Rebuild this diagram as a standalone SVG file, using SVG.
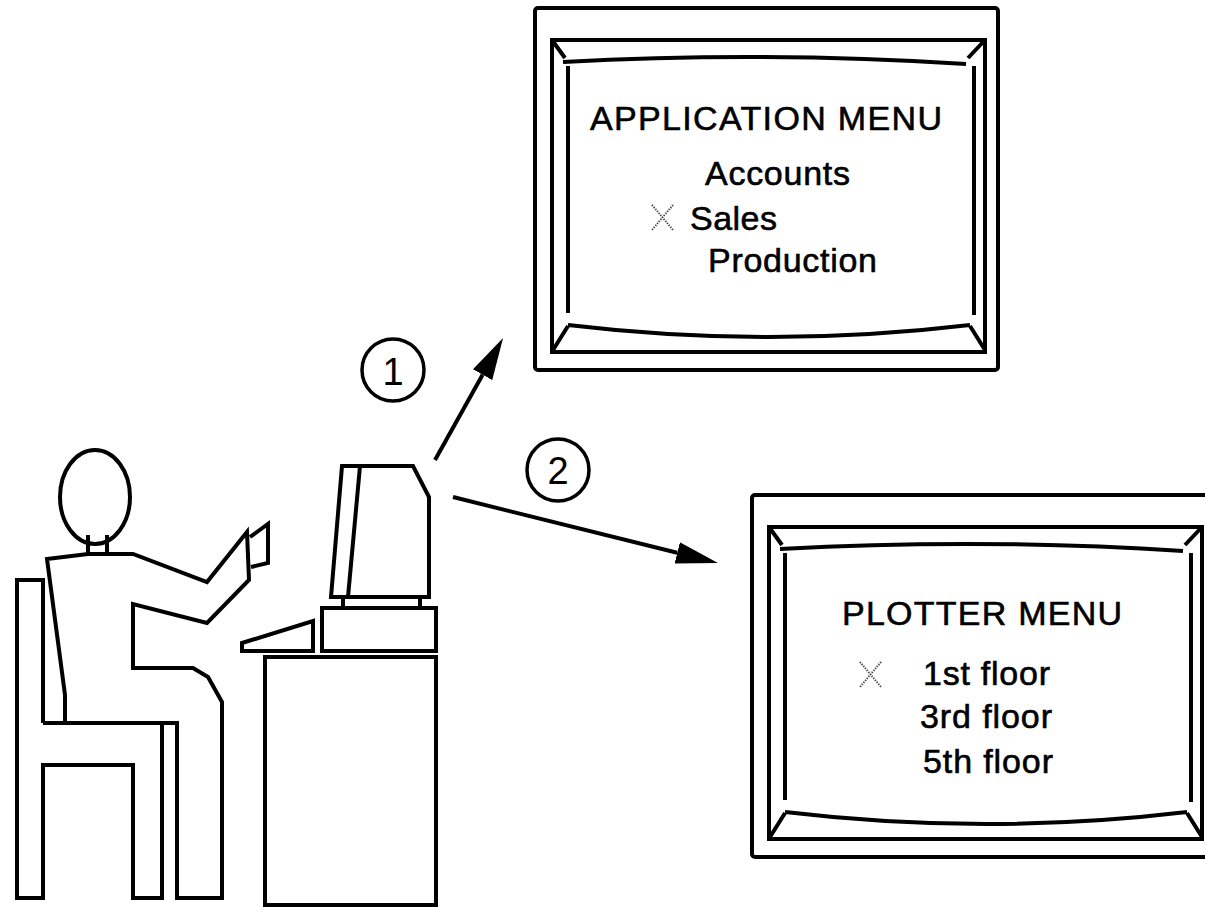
<svg xmlns="http://www.w3.org/2000/svg" xmlns:xlink="http://www.w3.org/1999/xlink" width="1205" height="907" viewBox="0 0 1205 907">
  <style>
    .ln { fill: none; stroke: #000; stroke-width: 4; stroke-linejoin: miter; stroke-linecap: butt; }
    .menu { font-family: "Liberation Sans", Arial, Helvetica, sans-serif; font-size: 34px; fill: #000; stroke: #000; stroke-width: 0.6; }
    .num { font-family: "Liberation Sans", Arial, Helvetica, sans-serif; font-size: 38px; fill: #000; text-anchor: middle; }
    .xmark { fill: none; stroke: #444; stroke-width: 2; stroke-dasharray: 1.3 1.3; }
    .conn { fill: none; stroke: #000; stroke-width: 4; }
  </style>
  <defs>
    <marker id="arrowhead" markerUnits="userSpaceOnUse" markerWidth="44" markerHeight="24" viewBox="0 -12 44 24" refX="0" refY="0" orient="auto">
      <path d="M0,-11 L42,0 L0,11 z" fill="#000"/>
    </marker>
    <!-- Monitor frame, drawn at the position of the upper screen -->
    <g id="screenFrame">
      <rect class="ln" x="535" y="8" width="463" height="362" rx="3"/>
      <rect class="ln" x="552" y="40" width="433" height="312"/>
      <path class="ln" d="M552,40 L565,58 M985,40 L968,58 M553,350 L568,326 M985,350 L970,326"/>
      <path class="ln" d="M563,62 Q765,51 966,64"/>
      <path class="ln" d="M568,325 Q769,349 970,325"/>
      <path class="ln" d="M568,66 L568,313 M974,66 L974,315"/>
    </g>
  </defs>

  <rect width="1205" height="907" fill="#fff"/>

  <!-- Seated user and chair -->
  <g id="user">
    <ellipse class="ln" cx="95" cy="497" rx="35" ry="47"/>
    <path class="ln" d="M88,535 L88,554 M107,535 L107,554"/>
    <!-- chair -->
    <path class="ln" d="M43,723 L43,580 L17,580 L17,898 L43,898 L43,765 L133,765 L133,898 L162,898 L162,723"/>
    <!-- body outline -->
    <path class="ln" d="M65,723 L65,695 L47,559 L88,554 L133,554 L207,582 L247,532 L249,580 L207,623 L133,604 L133,668 L193,668 L208,677 L222,702 L222,898 L177,898 L177,723 L43,723"/>
    <!-- hand -->
    <path class="ln" d="M250,537 L268,524 L268,563 L251,567"/>
  </g>

  <!-- Desk with terminal -->
  <g id="terminal">
    <path class="ln" d="M342,466 L413,466 L429,497 L429,597 L331,597 Z"/>
    <path class="ln" d="M360,466 L348,597"/>
    <path class="ln" d="M343,597 L343,608 M420,597 L420,608"/>
    <rect class="ln" x="322" y="608" width="114" height="43"/>
    <path class="ln" d="M242,643 L313,621 L313,651 L242,651 Z"/>
    <rect class="ln" x="265" y="657" width="171" height="248"/>
  </g>

  <!-- Application menu screen -->
  <g id="appScreen">
    <use xlink:href="#screenFrame"/>
    <text class="menu" x="590" y="130" textLength="352" lengthAdjust="spacing">APPLICATION MENU</text>
    <text class="menu" x="705" y="185" textLength="145" lengthAdjust="spacing">Accounts</text>
    <path class="xmark" d="M652,205 L673,230 M673,205 L652,230"/>
    <text class="menu" x="690" y="230" textLength="87" lengthAdjust="spacing">Sales</text>
    <text class="menu" x="708" y="272" textLength="169" lengthAdjust="spacing">Production</text>
  </g>

  <!-- Plotter menu screen -->
  <g id="plotterScreen">
    <use xlink:href="#screenFrame" transform="translate(217,487)"/>
    <text class="menu" x="842" y="625" textLength="280" lengthAdjust="spacing">PLOTTER MENU</text>
    <path class="xmark" d="M860,662 L881,687 M881,662 L860,687"/>
    <text class="menu" x="923" y="685" textLength="127" lengthAdjust="spacing">1st floor</text>
    <text class="menu" x="920" y="728" textLength="132" lengthAdjust="spacing">3rd floor</text>
    <text class="menu" x="923" y="773" textLength="130" lengthAdjust="spacing">5th floor</text>
  </g>

  <!-- Step labels -->
  <g id="step1">
    <circle cx="393" cy="370" r="31" fill="none" stroke="#000" stroke-width="3.5"/>
    <text class="num" x="393" y="385">1</text>
  </g>
  <g id="step2">
    <circle cx="558" cy="470" r="31" fill="none" stroke="#000" stroke-width="3.5"/>
    <text class="num" x="558" y="484">2</text>
  </g>

  <!-- Connectors -->
  <g id="connectors">
    <line class="conn" x1="435" y1="460" x2="482.6" y2="374.7" marker-end="url(#arrowhead)"/>
    <line class="conn" x1="453" y1="497" x2="677.2" y2="552.8" marker-end="url(#arrowhead)"/>
  </g>
</svg>
